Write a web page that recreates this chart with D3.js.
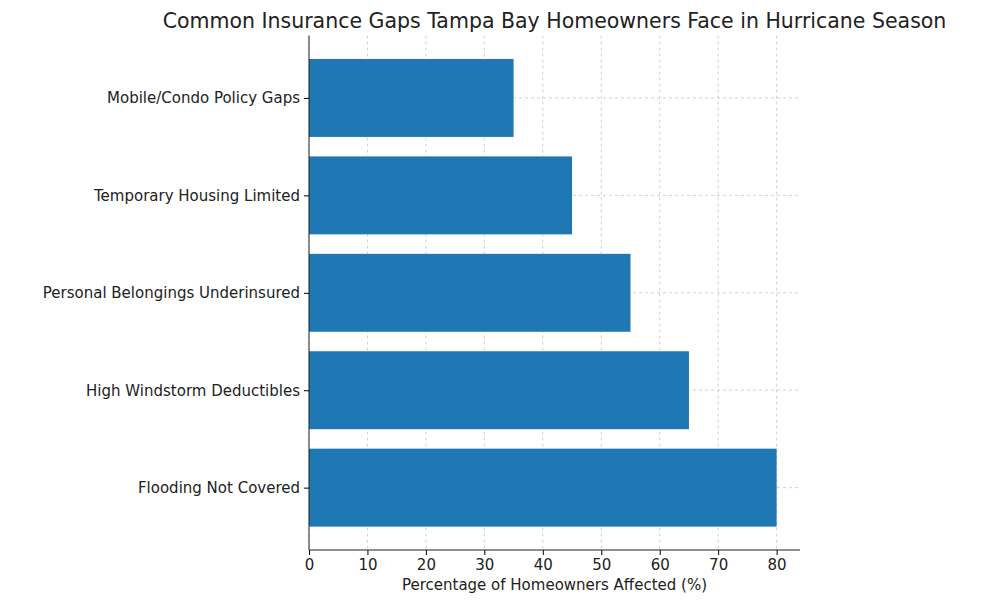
<!DOCTYPE html>
<html>
<head>
<meta charset="utf-8">
<script src="https://cdn.jsdelivr.net/npm/d3@7"></script>
<style>
  body { margin: 0; background: #fff; }
  text { font-family: "DejaVu Sans", sans-serif; fill: #222; }
</style>
</head>
<body>
<div id="chart"></div>
<script>
const categories = ["Flooding Not Covered", "High Windstorm Deductibles", "Personal Belongings Underinsured", "Temporary Housing Limited", "Mobile/Condo Policy Gaps"];
const values = [80, 65, 55, 45, 35];
const xTicks = [0, 10, 20, 30, 40, 50, 60, 70, 80];

const w = 1000, h = 605;
const padLeft = 309, padRight = 800, padTop = 35.6, padBottom = 550;

const svg = d3.select("#chart").append("svg").attr("width", w).attr("height", h);

const x = d3.scaleLinear().domain([0, 84]).range([padLeft, padRight]);
// matplotlib-style positions: index 0 at bottom
const y = d3.scaleLinear().domain([-0.64, 4.64]).range([padBottom, padTop]);

// grid
svg.append("g").selectAll("line").data(xTicks).enter().append("line")
  .attr("x1", d => x(d)).attr("x2", d => x(d)).attr("y1", padTop).attr("y2", padBottom)
  .attr("stroke", "#b0b0b0").attr("stroke-width", 0.8).attr("stroke-dasharray", "3,3").attr("opacity", 0.7);
svg.append("g").selectAll("line").data(categories).enter().append("line")
  .attr("x1", padLeft).attr("x2", padRight).attr("y1", (d, i) => y(i)).attr("y2", (d, i) => y(i))
  .attr("stroke", "#b0b0b0").attr("stroke-width", 0.8).attr("stroke-dasharray", "3,3").attr("opacity", 0.7);

// bars
svg.append("g").selectAll("rect").data(values).enter().append("rect")
  .attr("x", x(0))
  .attr("y", (d, i) => y(i + 0.4))
  .attr("width", d => x(d) - x(0))
  .attr("height", y(-0.4) - y(0.4))
  .attr("fill", "#1f77b4");

// x axis
const xAxis = svg.append("g").attr("transform", `translate(0,${padBottom})`)
  .call(d3.axisBottom(x).tickValues(xTicks).tickSize(5).tickPadding(4));
xAxis.selectAll("text").attr("font-size", 15).attr("font-family", "DejaVu Sans, sans-serif").attr("fill", "#222");
xAxis.select(".domain").attr("stroke", "#222").attr("d", `M${padLeft},0H${padRight}`);

// y axis
const yAxis = svg.append("g").attr("transform", `translate(${padLeft},0)`)
  .call(d3.axisLeft(y).tickValues([0, 1, 2, 3, 4]).tickFormat(i => categories[i]).tickSize(5).tickPadding(4));
yAxis.selectAll("text").attr("font-size", 15).attr("font-family", "DejaVu Sans, sans-serif").attr("fill", "#222");
yAxis.select(".domain").attr("stroke", "#222").attr("d", `M0,${padTop}V${padBottom}`);

// labels
svg.append("text").attr("x", (padLeft + padRight) / 2).attr("y", 590).attr("text-anchor", "middle")
  .attr("font-size", 15).text("Percentage of Homeowners Affected (%)");
svg.append("text").attr("x", (padLeft + padRight) / 2).attr("y", 28).attr("text-anchor", "middle")
  .attr("font-size", 20.5).text("Common Insurance Gaps Tampa Bay Homeowners Face in Hurricane Season");
</script>
</body>
</html>
